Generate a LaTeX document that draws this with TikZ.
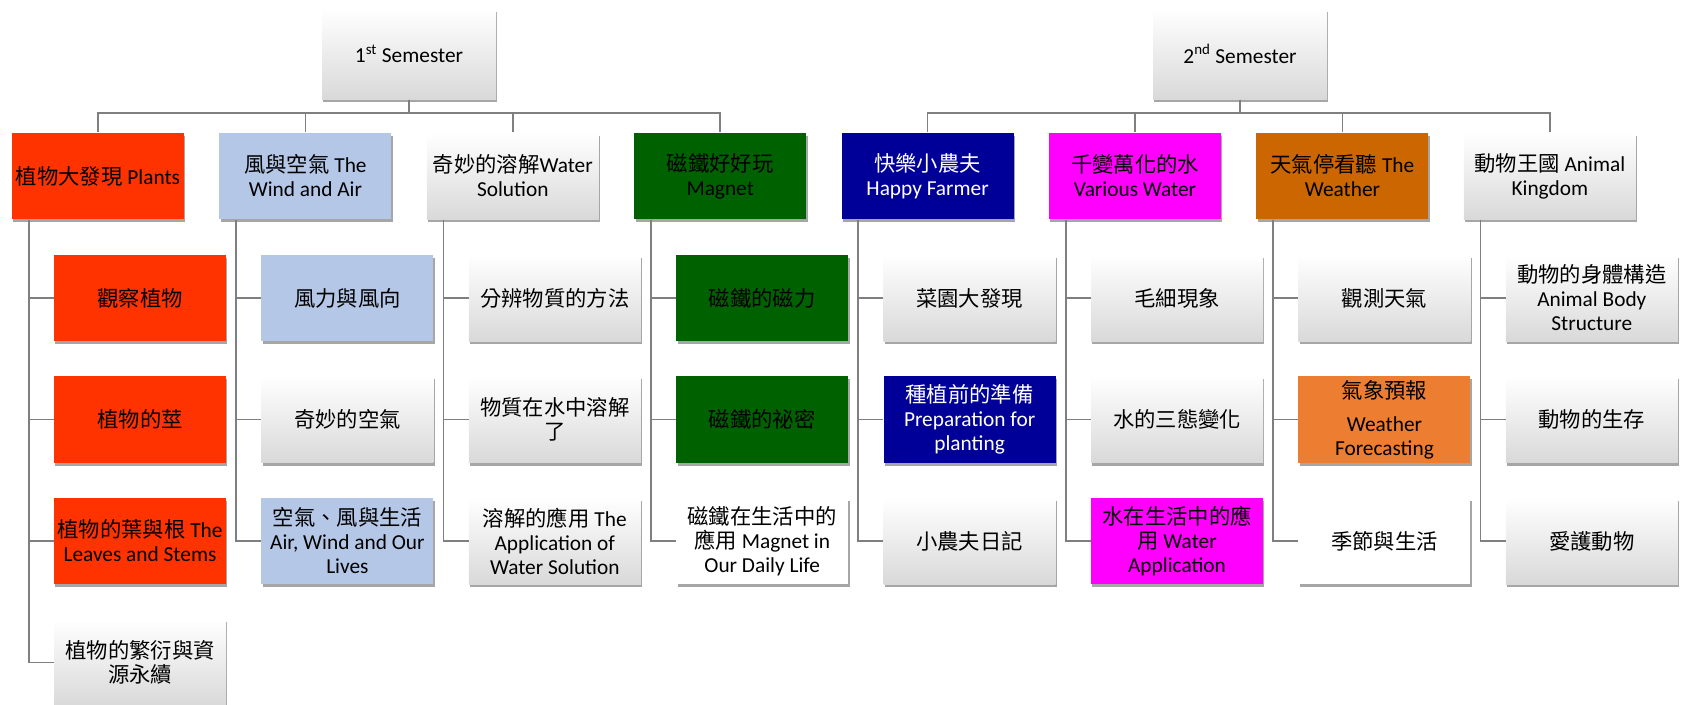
\documentclass[tikz,border=0pt]{standalone}
\usepackage{fontspec}
\setmainfont{Carlito}
\newfontfamily\zhfont{Noto Sans CJK TC}
\newcommand{\zh}[1]{{\zhfont #1}}
\usepackage{xcolor}
\usepackage{tikz}
\usetikzlibrary{shadows}
\definecolor{plantred}{HTML}{FF3300}
\definecolor{windblue}{HTML}{B4C7E7}
\definecolor{magnetgreen}{HTML}{006100}
\definecolor{farmerblue}{HTML}{000099}
\definecolor{watermagenta}{HTML}{FF00FF}
\definecolor{weatherbrown}{HTML}{CC6600}
\definecolor{forecastorange}{HTML}{ED7D31}
\definecolor{linegray}{HTML}{7F7F7F}
\tikzset{
  box/.style={rectangle, minimum width=129pt, minimum height=65pt, inner sep=2pt,
    align=center, font=\fontsize{16}{18}\selectfont,
    drop shadow={shadow xshift=1pt, shadow yshift=-2.2pt, opacity=0.35, fill=black}},
  semester/.style={minimum width=130.5pt, minimum height=68pt},
  silver/.style={top color=white, middle color=white, bottom color=black!15},
  plain/.style={fill=white},
  plants/.style={fill=plantred},
  wind/.style={fill=windblue},
  magnet/.style={fill=magnetgreen},
  farmer/.style={fill=farmerblue, text=white},
  water/.style={fill=watermagenta},
  weather/.style={fill=weatherbrown},
  forecast/.style={fill=forecastorange},
  link/.style={draw=linegray, line width=1.3pt}
}

\begin{document}
\begin{tikzpicture}[x=0.75pt, y=-0.75pt]
      \useasboundingbox (0,0) rectangle (1683,705);
      \begin{scope}[every node/.style={box}]
          \node[semester, silver] (S1) at (409,54) {1\textsuperscript{st} Semester};
          \node[semester, silver] (S2) at (1240,54) {2\textsuperscript{nd} Semester};

          \node[plants] (T1) at (98,176) {\zh{植物大發現} Plants};
          \node[wind] (T2) at (305.4,176) {\zh{風與空氣} The\\Wind and Air};
          \node[silver] (T3) at (512.8,176) {\zh{奇妙的溶解}Water\\Solution};
          \node[magnet] (T4) at (720.2,176) {\zh{磁鐵好好玩}\\Magnet};
          \node[farmer] (T5) at (927.6,176) {\zh{快樂小農夫}\\Happy Farmer};
          \node[water] (T6) at (1135,176) {\zh{千變萬化的水}\\Various Water};
          \node[weather] (T7) at (1342.4,176) {\zh{天氣停看聽} The\\Weather};
          \node[silver] (T8) at (1549.8,176) {\zh{動物王國} Animal\\Kingdom};

          \node[plants] (T1a) at (140,298) {\zh{觀察植物}};
          \node[plants] (T1b) at (140,419.5) {\zh{植物的莖}};
          \node[plants] (T1c) at (140,541) {\zh{植物的葉與根} The\\Leaves and Stems};
          \node[silver] (T1d) at (140,662.5) {\zh{植物的繁衍與資}\\\zh{源永續}};

          \node[wind] (T2a) at (347.4,298) {\zh{風力與風向}};
          \node[silver] (T2b) at (347.4,419.5) {\zh{奇妙的空氣}};
          \node[wind] (T2c) at (347.4,541) {\zh{空氣、風與生活}\\Air, Wind and Our\\Lives};

          \node[silver] (T3a) at (554.8,298) {\zh{分辨物質的方法}};
          \node[silver] (T3b) at (554.8,419.5) {\zh{物質在水中溶解}\\\zh{了}};
          \node[silver] (T3c) at (554.8,541) {\zh{溶解的應用} The\\Application of\\Water Solution};

          \node[magnet] (T4a) at (762.2,298) {\zh{磁鐵的磁力}};
          \node[magnet] (T4b) at (762.2,419.5) {\zh{磁鐵的祕密}};
          \node[plain] (T4c) at (762.2,541) {\zh{磁鐵在生活中的}\\\zh{應用} Magnet in\\Our Daily Life};

          \node[silver] (T5a) at (969.6,298) {\zh{菜園大發現}};
          \node[farmer] (T5b) at (969.6,419.5) {\zh{種植前的準備}\\Preparation for\\planting};
          \node[silver] (T5c) at (969.6,541) {\zh{小農夫日記}};

          \node[silver] (T6a) at (1177,298) {\zh{毛細現象}};
          \node[silver] (T6b) at (1177,419.5) {\zh{水的三態變化}};
          \node[water] (T6c) at (1177,541) {\zh{水在生活中的應}\\\zh{用} Water\\Application};

          \node[silver] (T7a) at (1384.4,298) {\zh{觀測天氣}};
          \node[forecast] (T7b) at (1384.4,419.5) {\zh{氣象預報}\\[7pt]Weather\\Forecasting};
          \node[plain] (T7c) at (1384.4,541) {\zh{季節與生活}};

          \node[silver] (T8a) at (1591.8,298) {\zh{動物的身體構造}\\Animal Body\\Structure};
          \node[silver] (T8b) at (1591.8,419.5) {\zh{動物的生存}};
          \node[silver] (T8c) at (1591.8,541) {\zh{愛護動物}};
      \end{scope}

      % semester to topics
      \draw[link] (S1.south) -- ++(0,13.7) -| (T1.north);
      \draw[link] (S1.south) -- ++(0,13.7) -| (T2.north);
      \draw[link] (S1.south) -- ++(0,13.7) -| (T3.north);
      \draw[link] (S1.south) -- ++(0,13.7) -| (T4.north);
      \draw[link] (S2.south) -- ++(0,13.7) -| (T5.north);
      \draw[link] (S2.south) -- ++(0,13.7) -| (T6.north);
      \draw[link] (S2.south) -- ++(0,13.7) -| (T7.north);
      \draw[link] (S2.south) -- ++(0,13.7) -| (T8.north);

      % topics to units
      \draw[link] (T1.south west) ++(17,0) |- (T1a.west);
      \draw[link] (T1.south west) ++(17,0) |- (T1b.west);
      \draw[link] (T1.south west) ++(17,0) |- (T1c.west);
      \draw[link] (T1.south west) ++(17,0) |- (T1d.west);
      \draw[link] (T2.south west) ++(17,0) |- (T2a.west);
      \draw[link] (T2.south west) ++(17,0) |- (T2b.west);
      \draw[link] (T2.south west) ++(17,0) |- (T2c.west);
      \draw[link] (T3.south west) ++(17,0) |- (T3a.west);
      \draw[link] (T3.south west) ++(17,0) |- (T3b.west);
      \draw[link] (T3.south west) ++(17,0) |- (T3c.west);
      \draw[link] (T4.south west) ++(17,0) |- (T4a.west);
      \draw[link] (T4.south west) ++(17,0) |- (T4b.west);
      \draw[link] (T4.south west) ++(17,0) |- (T4c.west);
      \draw[link] (T5.south west) ++(17,0) |- (T5a.west);
      \draw[link] (T5.south west) ++(17,0) |- (T5b.west);
      \draw[link] (T5.south west) ++(17,0) |- (T5c.west);
      \draw[link] (T6.south west) ++(17,0) |- (T6a.west);
      \draw[link] (T6.south west) ++(17,0) |- (T6b.west);
      \draw[link] (T6.south west) ++(17,0) |- (T6c.west);
      \draw[link] (T7.south west) ++(17,0) |- (T7a.west);
      \draw[link] (T7.south west) ++(17,0) |- (T7b.west);
      \draw[link] (T7.south west) ++(17,0) |- (T7c.west);
      \draw[link] (T8.south west) ++(17,0) |- (T8a.west);
      \draw[link] (T8.south west) ++(17,0) |- (T8b.west);
      \draw[link] (T8.south west) ++(17,0) |- (T8c.west);
\end{tikzpicture}
\end{document}
